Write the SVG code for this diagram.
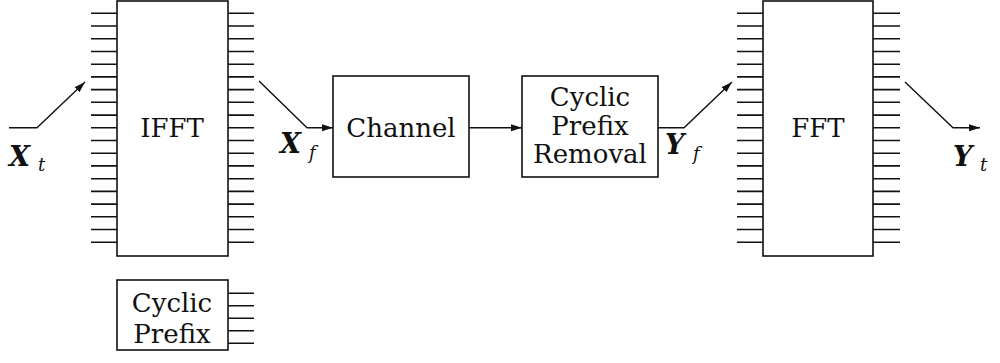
<svg xmlns="http://www.w3.org/2000/svg" width="1000" height="363" viewBox="0 0 1000 363">
<style>
.box{fill:#fff;stroke:#111;stroke-width:1.6}
.tick{fill:none;stroke:#111;stroke-width:1.6}
.wire{fill:none;stroke:#111;stroke-width:1.4}
.lbl{font-family:"DejaVu Serif",serif;font-size:26px;fill:#111;text-anchor:middle}
.m{font-family:"DejaVu Serif",serif;font-weight:bold;font-style:italic;font-size:27px;fill:#111}
.s{font-family:"DejaVu Serif",serif;font-style:italic;font-size:18px;fill:#111}
</style>
<defs>
<marker id="ah" markerUnits="userSpaceOnUse" markerWidth="12" markerHeight="8" refX="11" refY="3.5" orient="auto">
<path d="M0,0 L11,3.5 L0,7 z" fill="#111"/>
</marker>
</defs>
<g id="ifft">
<path class="tick" d="M91,13.3H117M91,26H117M91,38.7H117M91,51.5H117M91,64.2H117M91,76.9H117M91,89.6H117M91,102.3H117M91,115.1H117M91,127.8H117M91,140.5H117M91,153.2H117M91,165.9H117M91,178.7H117M91,191.4H117M91,204.1H117M91,216.8H117M91,229.5H117M91,242.3H117"/>
<path class="tick" d="M228,13.3H254M228,26H254M228,38.7H254M228,51.5H254M228,64.2H254M228,76.9H254M228,89.6H254M228,102.3H254M228,115.1H254M228,127.8H254M228,140.5H254M228,153.2H254M228,165.9H254M228,178.7H254M228,191.4H254M228,204.1H254M228,216.8H254M228,229.5H254M228,242.3H254"/>
<rect class="box" x="117" y="1" width="111" height="255"/>
<text class="lbl" x="172" y="137">IFFT</text>
</g>
<g id="cyclic-prefix">
<path class="tick" d="M228,293.3H254M228,305.8H254M228,318.3H254M228,330.8H254M228,343.3H254"/>
<rect class="box" x="117" y="280" width="111" height="70"/>
<text class="lbl" x="172" y="312">Cyclic</text>
<text class="lbl" x="172" y="343">Prefix</text>
</g>
<g id="channel">
<rect class="box" x="333" y="76" width="136" height="101"/>
<text class="lbl" x="401" y="137">Channel</text>
</g>
<g id="cp-removal">
<rect class="box" x="522" y="76" width="136" height="101"/>
<text class="lbl" x="590" y="106">Cyclic</text>
<text class="lbl" x="590" y="134.5">Prefix</text>
<text class="lbl" x="590" y="163">Removal</text>
</g>
<g id="fft">
<path class="tick" d="M737,13.3H763M737,26H763M737,38.7H763M737,51.5H763M737,64.2H763M737,76.9H763M737,89.6H763M737,102.3H763M737,115.1H763M737,127.8H763M737,140.5H763M737,153.2H763M737,165.9H763M737,178.7H763M737,191.4H763M737,204.1H763M737,216.8H763M737,229.5H763M737,242.3H763"/>
<path class="tick" d="M873,13.3H900M873,26H900M873,38.7H900M873,51.5H900M873,64.2H900M873,76.9H900M873,89.6H900M873,102.3H900M873,115.1H900M873,127.8H900M873,140.5H900M873,153.2H900M873,165.9H900M873,178.7H900M873,191.4H900M873,204.1H900M873,216.8H900M873,229.5H900M873,242.3H900"/>
<rect class="box" x="763" y="1" width="110" height="255"/>
<text class="lbl" x="818" y="137">FFT</text>
</g>
<g id="connectors">
<polyline class="wire" points="9,127.8 37,127.8 85,82" marker-end="url(#ah)"/>
<polyline class="wire" points="259,81 307,127.8 333,127.8" marker-end="url(#ah)"/>
<line class="wire" x1="469" y1="127.8" x2="522" y2="127.8" marker-end="url(#ah)"/>
<polyline class="wire" points="658,127.8 684,127.8 732,82" marker-end="url(#ah)"/>
<polyline class="wire" points="905,82 953,127.8 980,127.8" marker-end="url(#ah)"/>
</g>
<g id="labels">
<text class="m" x="9" y="166">X</text><text class="s" x="38" y="171">t</text>
<text class="m" x="280" y="153">X</text><text class="s" x="309" y="159">f</text>
<text class="m" x="665" y="154">Y</text><text class="s" x="693" y="160">f</text>
<text class="m" x="953" y="166">Y</text><text class="s" x="980" y="171">t</text>
</g>
</svg>
